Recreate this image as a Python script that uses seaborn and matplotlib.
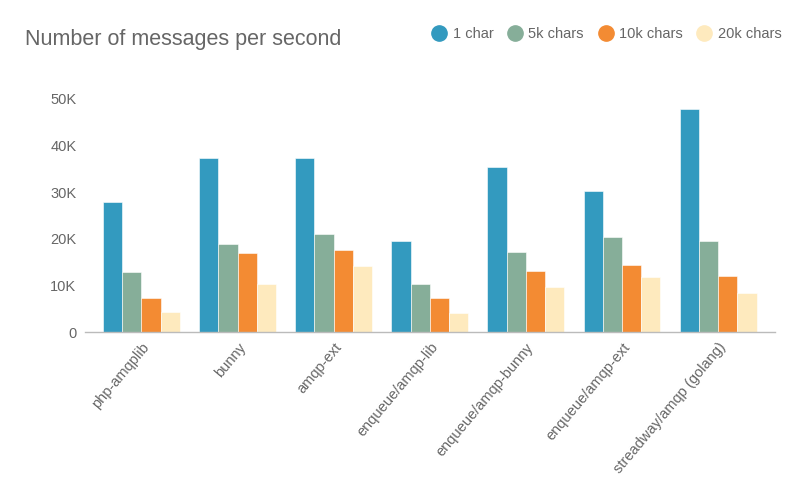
import pandas as pd
import matplotlib.pyplot as plt
import seaborn as sns
from matplotlib.lines import Line2D

# Dados (mensagens por segundo)
libraries = ["php-amqplib", "bunny", "amqp-ext", "enqueue/amqp-lib",
             "enqueue/amqp-bunny", "enqueue/amqp-ext", "streadway/amqp (golang)"]
sizes = ["1 char", "5k chars", "10k chars", "20k chars"]
one_char = [27900, 37400, 37400, 19600, 35500, 30300, 47800]
five_k = [12900, 18800, 21100, 10300, 17100, 20400, 19600]
ten_k = [7200, 17000, 17700, 7200, 13000, 14300, 12000]
twenty_k = [4300, 10400, 14100, 4000, 9700, 11800, 8400]
colors = ["#339abf", "#86ae99", "#f38b33", "#feeabe"]

rows = []
for size, values in zip(sizes, [one_char, five_k, ten_k, twenty_k]):
    for lib, v in zip(libraries, values):
        rows.append({"library": lib, "size": size, "msgs": v})
df = pd.DataFrame(rows)

sns.set_style("white")
plt.rcParams["font.family"] = ["Liberation Sans", "DejaVu Sans"]
text_color = "#666666"

fig = plt.figure(figsize=(8, 5), dpi=100)
ax = fig.add_axes([0.106, 0.336, 0.8625, 0.466])

sns.barplot(data=df, x="library", y="msgs", hue="size", order=libraries,
            hue_order=sizes, palette=colors, saturation=1, width=0.8, ax=ax,
            edgecolor="white", linewidth=0.4, legend=False)

ax.set_xlim(-0.59, 6.59)
ax.set_ylim(0, 50000)
ax.set_yticks([0, 10000, 20000, 30000, 40000, 50000])
ax.set_yticklabels(["0", "10K", "20K", "30K", "40K", "50K"])
ax.set_xlabel("")
ax.set_ylabel("")
ax.tick_params(axis="both", length=0, colors=text_color, labelsize=10.5)
ax.tick_params(axis="y", pad=6)
ax.tick_params(axis="x", pad=6)
plt.setp(ax.get_xticklabels(), rotation=50, ha="right", rotation_mode="anchor")

for side in ["top", "right", "left"]:
    ax.spines[side].set_visible(False)
ax.spines["bottom"].set_color("#bbbbbb")
ax.spines["bottom"].set_linewidth(1)

fig.text(0.031, 0.92, "Number of messages per second", fontsize=15.5,
         color=text_color, va="center")

handles = [Line2D([], [], marker="o", linestyle="", markersize=11,
                  markerfacecolor=c, markeredgecolor=c) for c in colors]
fig.legend(handles, sizes, loc="center right", bbox_to_anchor=(0.993, 0.932),
           ncol=4, frameon=False, fontsize=10.5, labelcolor=text_color,
           handletextpad=0.3, columnspacing=0.9, handlelength=1.2)

plt.savefig("out.png", dpi=100)
plt.close()
